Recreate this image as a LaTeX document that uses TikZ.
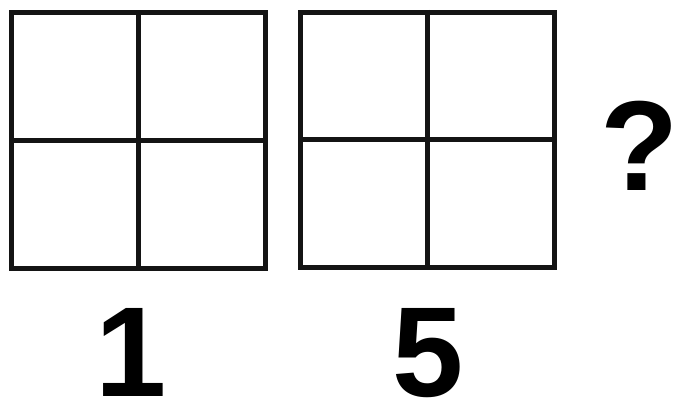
\documentclass[tikz,border=0pt]{standalone}
\usepackage{fontspec}
\setmainfont{Liberation Sans}
\begin{document}
\begin{tikzpicture}[x=1pt,y=-1pt,
  gridsq/.style={draw=black!92, line width=5pt, minimum width=254pt, minimum height=255pt, inner sep=0pt},
  gline/.style={draw=black!92, line width=5pt},
  bigtext/.style={font=\fontsize{128}{128}\selectfont\bfseries, inner sep=0pt, anchor=base}]
\useasboundingbox (0,0) rectangle (677,398);
\node[gridsq] (A) at (138.5,140.5) {};
\node[gridsq] (B) at (427.5,140) {};
\draw[gline] (A.north) -- (A.south);
\draw[gline] (A.west) -- (A.east);
\draw[gline] (B.north) -- (B.south);
\draw[gline] (B.west) -- (B.east);
\node[bigtext] (one) at (131,396) {1};
\node[bigtext] (five) at (428,396) {5};
\node[bigtext] (q) at (640,191) {?};
\end{tikzpicture}
\end{document}
